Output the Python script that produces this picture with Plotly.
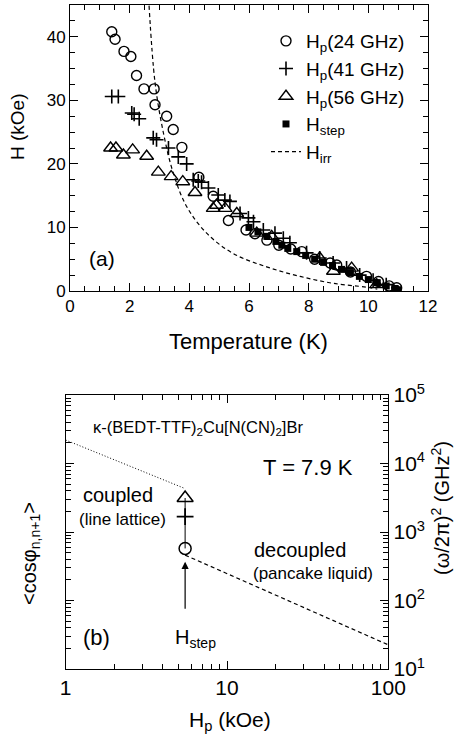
import math
import plotly.graph_objects as go

# ---------------- Panel (a) data ----------------
T_24 = [1.40, 1.51, 1.81, 2.04, 2.23, 2.48, 2.82, 2.85, 3.24, 3.46, 3.75, 4.32, 4.80, 5.31, 5.90,
        6.2, 6.6, 7.0, 7.4, 7.77, 8.2, 8.72, 8.94, 9.4, 9.94, 10.34, 10.7, 10.95]
H_24 = [40.8, 39.6, 37.7, 36.9, 33.9, 31.8, 31.8, 29.3, 27.5, 25.4, 22.6, 17.9, 14.9, 11.1, 9.6,
        9.0, 8.0, 7.2, 6.6, 6.2, 5.0, 4.4, 4.1, 3.0, 2.3, 1.5, 0.8, 0.5]

T_41 = [1.40, 1.62, 2.07, 2.15, 2.32, 2.79, 2.90, 3.30, 3.63, 3.91, 4.13, 4.30, 4.41, 4.64, 4.97,
        5.19, 5.36, 5.70, 5.98, 6.15, 6.48, 6.87, 7.15, 7.37, 7.93, 8.37, 8.82, 9.27, 9.71,
        10.16, 10.6]
H_41 = [30.6, 30.6, 28.0, 27.8, 27.1, 24.1, 23.8, 22.5, 21.1, 20.0, 17.5, 17.3, 17.1, 16.2, 15.1,
        14.3, 14.1, 12.2, 11.5, 10.9, 9.6, 9.1, 8.3, 7.6, 6.0, 5.2, 4.4, 3.6, 2.5,
        1.7, 1.0]

T_56 = [1.36, 1.54, 1.79, 2.10, 2.57, 2.96, 3.39, 3.78, 4.19, 4.80, 4.91, 5.20, 5.59, 6.26, 6.76,
        8.37, 8.83, 9.44, 10.28]
H_56 = [22.5, 22.5, 21.4, 22.2, 21.2, 18.7, 18.0, 17.2, 15.5, 13.0, 13.5, 13.0, 12.2, 9.1, 8.6,
        5.2, 3.1, 3.6, 1.0]

T_step = [6.0, 6.3, 6.6, 6.9, 7.1, 7.3, 7.6, 7.9, 8.2, 8.5, 8.8, 9.1, 9.4, 9.7, 10.0, 10.3,
          10.6, 10.9, 11.0]
H_step = [10.0, 9.3, 8.6, 7.8, 7.2, 6.7, 6.2, 5.6, 5.0, 4.5, 4.0, 3.4, 2.9, 2.3, 1.8, 1.3,
          0.8, 0.4, 0.2]

T_irr = [2.65, 2.85, 3.13, 3.46, 3.91, 4.58, 5.47, 6.59, 7.71, 8.83, 9.94, 10.3]
H_irr = [44.9, 32.8, 24.9, 18.6, 13.3, 9.1, 5.9, 3.8, 2.3, 1.2, 0.6, 0.3]

# ---------------- Panel (b) data ----------------
Hp_b = [5.5, 5.5, 5.5]
f2_b = [576, 1681, 3136]          # (24 GHz)^2, (41 GHz)^2, (56 GHz)^2
dot_H = [1.0, 5.5]
dot_f = [22000, 4300]
dash_H = [5.5, 100]
dash_f = [460, 22.5]
arrow_f = [72, 368]               # arrow tail / head (right-axis units)

FONT = "Liberation Sans, Arial, Helvetica, sans-serif"
W, Hh = 459, 739


def px(x):
    return x / W


def py(y):
    return 1 - y / Hh


fig = go.Figure()

fig.add_trace(go.Scatter(x=T_24, y=H_24, mode="markers", name="H<sub>p</sub>(24 GHz)",
                         marker=dict(symbol="circle-open", size=10, color="black",
                                     line=dict(width=1.4, color="black"))))
fig.add_trace(go.Scatter(x=T_41, y=H_41, mode="markers", name="H<sub>p</sub>(41 GHz)",
                         marker=dict(symbol="cross-thin-open", size=10, color="black",
                                     line=dict(width=1.6, color="black"))))
fig.add_trace(go.Scatter(x=T_56, y=H_56, mode="markers", name="H<sub>p</sub>(56 GHz)",
                         marker=dict(symbol="triangle-up-open", size=12, color="black",
                                     line=dict(width=1.4, color="black"))))
fig.add_trace(go.Scatter(x=T_step, y=H_step, mode="markers", name="H<sub>step</sub>",
                         marker=dict(symbol="square", size=7, color="black")))
fig.add_trace(go.Scatter(x=T_irr, y=H_irr, mode="lines", name="H<sub>irr</sub>",
                         line=dict(color="black", width=1.2, dash="4px,3px", shape="spline")))

# panel (b)
fig.add_trace(go.Scatter(x=dot_H, y=dot_f, mode="lines", showlegend=False,
                         line=dict(color="black", width=1, dash="1px,2px"), xaxis="x2", yaxis="y2"))
fig.add_trace(go.Scatter(x=dash_H, y=dash_f, mode="lines", showlegend=False,
                         line=dict(color="black", width=1.2, dash="4px,3px"), xaxis="x2", yaxis="y2"))
fig.add_trace(go.Scatter(x=Hp_b, y=f2_b, mode="lines", showlegend=False,
                         line=dict(color="black", width=1), xaxis="x2", yaxis="y2"))
fig.add_trace(go.Scatter(x=Hp_b[:1], y=f2_b[:1], mode="markers", showlegend=False,
                         marker=dict(symbol="circle-open", size=12, color="black",
                                     line=dict(width=1.5, color="black")), xaxis="x2", yaxis="y2"))
fig.add_trace(go.Scatter(x=Hp_b[1:2], y=f2_b[1:2], mode="markers", showlegend=False,
                         marker=dict(symbol="cross-thin-open", size=12, color="black",
                                     line=dict(width=1.8, color="black")), xaxis="x2", yaxis="y2"))
fig.add_trace(go.Scatter(x=Hp_b[2:], y=f2_b[2:], mode="markers", showlegend=False,
                         marker=dict(symbol="triangle-up-open", size=14, color="black",
                                     line=dict(width=1.5, color="black")), xaxis="x2", yaxis="y2"))

ax_common = dict(showline=True, linecolor="black", linewidth=1, mirror="allticks",
                 ticks="inside", ticklen=8, tickwidth=1, tickcolor="black",
                 showgrid=False, zeroline=False, automargin=False)


def minor(**kw):
    d = dict(ticks="inside", ticklen=5, tickwidth=1, tickcolor="black", showgrid=False)
    d.update(kw)
    return d


fig.update_layout(
    width=W, height=Hh,
    margin=dict(l=0, r=0, t=0, b=0, autoexpand=False),
    paper_bgcolor="white", plot_bgcolor="white",
    font=dict(family=FONT, color="black", size=16),
    showlegend=True,
    legend=dict(x=px(266), y=py(22), xanchor="left", yanchor="top",
                bgcolor="rgba(0,0,0,0)", font=dict(size=19, family=FONT),
                tracegroupgap=0),
    xaxis=dict(domain=[px(70), px(428)], range=[0, 12], dtick=2, tick0=0, anchor="y",
               tickfont=dict(size=17),
               minor=minor(dtick=0.5, tick0=0),
               **ax_common),
    yaxis=dict(domain=[py(291), py(5)], range=[0, 45], dtick=10, tick0=0, anchor="x",
               tickfont=dict(size=17),
               minor=minor(dtick=2.5, tick0=0),
               **ax_common),
    xaxis2=dict(domain=[px(65.7), px(388.3)], type="log", range=[0, 2], anchor="y2",
                tickvals=[1, 10, 100], ticktext=["1", "10", "100"],
                tickfont=dict(size=21),
                minor=minor(dtick="D1"),
                **ax_common),
    yaxis2=dict(domain=[py(669), py(395)], type="log", range=[1, 5], anchor="x2",
                side="right",
                tickvals=[10, 100, 1000, 10000, 100000],
                ticktext=["10<sup>1</sup>", "10<sup>2</sup>", "10<sup>3</sup>",
                          "10<sup>4</sup>", "10<sup>5</sup>"],
                tickfont=dict(size=21),
                minor=minor(dtick="D1"),
                **ax_common),
)

ann = [
    # axis titles
    dict(text="Temperature (K)", x=px(248), y=py(342), size=22),
    dict(text="H (kOe)", x=px(18), y=py(127), size=19, angle=-90),
    dict(text="H<sub>p</sub> (kOe)", x=px(230), y=py(721), size=21),
    dict(text="&lt;cosφ<sub>n,n+1</sub>&gt;", x=px(30), y=py(554), size=20, angle=-90),
    dict(text="(ω/2π)<sup>2</sup> (GHz<sup>2</sup>)", x=px(440), y=py(508), size=20, angle=-90),
    # panel texts
    dict(text="(a)", x=px(102), y=py(258), size=21),
    dict(text="κ-(BEDT-TTF)<sub>2</sub>Cu[N(CN)<sub>2</sub>]Br", x=px(198), y=py(428), size=16.5),
    dict(text="T = 7.9 K", x=px(308), y=py(468), size=22),
    dict(text="coupled", x=px(117.5), y=py(495), size=20),
    dict(text="(line lattice)", x=px(122.6), y=py(519), size=17),
    dict(text="decoupled", x=px(300), y=py(550), size=20),
    dict(text="(pancake liquid)", x=px(312.5), y=py(573), size=17),
    dict(text="(b)", x=px(96), y=py(637), size=22),
    dict(text="H<sub>step</sub>", x=px(195), y=py(638), size=20),
]
for a in ann:
    fig.add_annotation(text=a["text"], x=a["x"], y=a["y"], xref="paper", yref="paper",
                       showarrow=False, xanchor="center", yanchor="middle",
                       textangle=a.get("angle", 0),
                       font=dict(size=a["size"], family=FONT, color="black"))

# arrow pointing to H_step in panel (b)
fig.add_annotation(x=math.log10(Hp_b[0]), y=math.log10(arrow_f[1]), xref="x2", yref="y2",
                   ax=math.log10(Hp_b[0]), ay=math.log10(arrow_f[0]), axref="x2", ayref="y2",
                   text="", showarrow=True, arrowhead=2, arrowsize=1.2, arrowwidth=1.2,
                   arrowcolor="black", standoff=0)

fig.write_html("out.html",
               config={"displayModeBar": False},
               post_script="document.body.style.margin='0px';"
                           "document.body.style.overflow='hidden';")
